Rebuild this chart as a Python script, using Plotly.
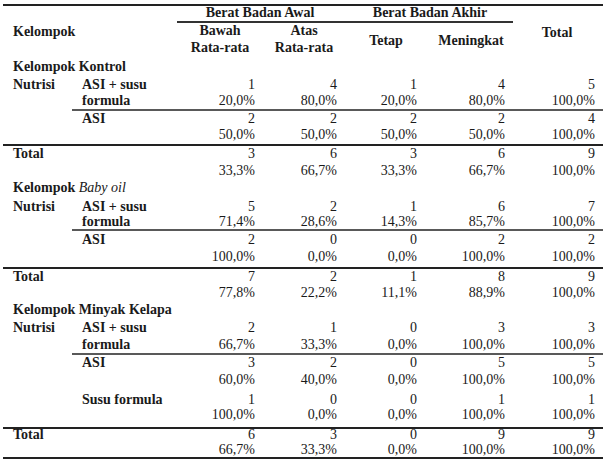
import plotly.graph_objects as go

# ---------------- data ----------------
header_awal = "Berat Badan Awal"
header_akhir = "Berat Badan Akhir"
col_labels_top = ["Bawah", "Atas"]
col_labels_bottom = ["Rata-rata", "Rata-rata"]
col_labels_akhir = ["Tetap", "Meningkat"]
col_label_total = "Total"
first_header = "Kelompok"

groups = ["Kelompok Kontrol", "Kelompok <i style='font-weight:normal'>Baby oil</i>", "Kelompok Minyak Kelapa"]
factor_label = "Nutrisi"
total_label = "Total"

kontrol_rows = ["ASI + susu", "ASI"]
kontrol_rows2 = ["formula", ""]
kontrol_n = [[1, 4, 1, 4, 5], [2, 2, 2, 2, 4]]
kontrol_pct = [["20,0%", "80,0%", "20,0%", "80,0%", "100,0%"],
               ["50,0%", "50,0%", "50,0%", "50,0%", "100,0%"]]
kontrol_total_n = [3, 6, 3, 6, 9]
kontrol_total_pct = ["33,3%", "66,7%", "33,3%", "66,7%", "100,0%"]

babyoil_rows = ["ASI + susu", "ASI"]
babyoil_rows2 = ["formula", ""]
babyoil_n = [[5, 2, 1, 6, 7], [2, 0, 0, 2, 2]]
babyoil_pct = [["71,4%", "28,6%", "14,3%", "85,7%", "100,0%"],
               ["100,0%", "0,0%", "0,0%", "100,0%", "100,0%"]]
babyoil_total_n = [7, 2, 1, 8, 9]
babyoil_total_pct = ["77,8%", "22,2%", "11,1%", "88,9%", "100,0%"]

minyak_rows = ["ASI + susu", "ASI", "Susu formula"]
minyak_rows2 = ["formula", "", ""]
minyak_n = [[2, 1, 0, 3, 3], [3, 2, 0, 5, 5], [1, 0, 0, 1, 1]]
minyak_pct = [["66,7%", "33,3%", "0,0%", "100,0%", "100,0%"],
              ["60,0%", "40,0%", "0,0%", "100,0%", "100,0%"],
              ["100,0%", "0,0%", "0,0%", "100,0%", "100,0%"]]
minyak_total_n = [6, 3, 0, 9, 9]
minyak_total_pct = ["66,7%", "33,3%", "0,0%", "100,0%", "100,0%"]

# ---------------- layout constants ----------------
W, H = 611, 462
FONT = "Liberation Serif, Times New Roman, serif"
FS_B = 14
FS_N = 14
TXT = "#1a1a1a"
col_right = [255, 337, 417, 505, 595]
col_center = [220, 304, 386, 471, 557]
x_left = 13
x_sub = 82
line_l, line_r = 3, 603
sub_l = 72

group_blocks = [
    dict(label_y=67, rows=[(85, 101), (119, 135)], sub_line=110, thick=145, total=(154, 171)),
    dict(label_y=188, rows=[(207, 222), (240, 257)], sub_line=230, thick=268, total=(277, 293)),
    dict(label_y=310, rows=[(328, 345), (363, 380), (400, 415)], sub_line=354, thick=428, total=(435, 450)),
]
group_data = [
    (kontrol_rows, kontrol_rows2, kontrol_n, kontrol_pct, kontrol_total_n, kontrol_total_pct),
    (babyoil_rows, babyoil_rows2, babyoil_n, babyoil_pct, babyoil_total_n, babyoil_total_pct),
    (minyak_rows, minyak_rows2, minyak_n, minyak_pct, minyak_total_n, minyak_total_pct),
]

fig = go.Figure()


def add_text(xs, ys, texts, pos, bold=False):
    t = [f"<b>{s}</b>" if (bold and s) else s for s in texts]
    fig.add_trace(go.Scatter(x=xs, y=ys, text=t, mode="text", textposition=pos,
                             textfont=dict(family=FONT, size=FS_B if bold else FS_N, color=TXT),
                             hoverinfo="skip", showlegend=False, cliponaxis=False))


def add_line(x0, x1, y, width, color="#222"):
    fig.add_trace(go.Scatter(x=[x0, x1], y=[y, y], mode="lines",
                             line=dict(color=color, width=width),
                             hoverinfo="skip", showlegend=False))


# header
add_line(line_l, line_r, 5, 2)
add_line(177, 513, 22, 2, "#333")
add_text([x_left], [32], [first_header], "middle right", bold=True)
add_text([260], [13], [header_awal], "middle center", bold=True)
add_text([430], [13], [header_akhir], "middle center", bold=True)
add_text(col_center[:2], [31, 31], col_labels_top, "middle center", bold=True)
add_text(col_center[:2], [48, 48], col_labels_bottom, "middle center", bold=True)
add_text(col_center[2:4], [41, 41], col_labels_akhir, "middle center", bold=True)
add_text([col_center[4]], [33], [col_label_total], "middle center", bold=True)

for g, blk, dat in zip(groups, group_blocks, group_data):
    rows, rows2, n, pct, tn, tp = dat
    add_text([x_left], [blk["label_y"]], [g], "middle right", bold=True)
    add_text([x_left], [blk["rows"][0][0]], [factor_label], "middle right", bold=True)
    for (y1, y2), r1, r2, nv, pv in zip(blk["rows"], rows, rows2, n, pct):
        add_text([x_sub, x_sub], [y1, y2], [r1, r2], "middle right", bold=True)
        add_text(col_right, [y1] * 5, [str(v) for v in nv], "middle left")
        add_text(col_right, [y2] * 5, pv, "middle left")
    add_line(sub_l, line_r, blk["sub_line"], 1.6)
    add_line(line_l, line_r, blk["thick"], 2)
    y1, y2 = blk["total"]
    add_text([x_left], [y1], [total_label], "middle right", bold=True)
    add_text(col_right, [y1] * 5, [str(v) for v in tn], "middle left")
    add_text(col_right, [y2] * 5, tp, "middle left")

add_line(line_l, line_r, 458, 2)

fig.update_layout(
    width=W, height=H, margin=dict(l=0, r=0, t=0, b=0),
    paper_bgcolor="white", plot_bgcolor="white",
    xaxis=dict(range=[0, W], visible=False, fixedrange=True),
    yaxis=dict(range=[H, 0], visible=False, fixedrange=True),
    showlegend=False,
)
fig.write_html("out.html", config={"displayModeBar": False},
               post_script="document.body.style.margin='0';document.body.style.padding='0';")
